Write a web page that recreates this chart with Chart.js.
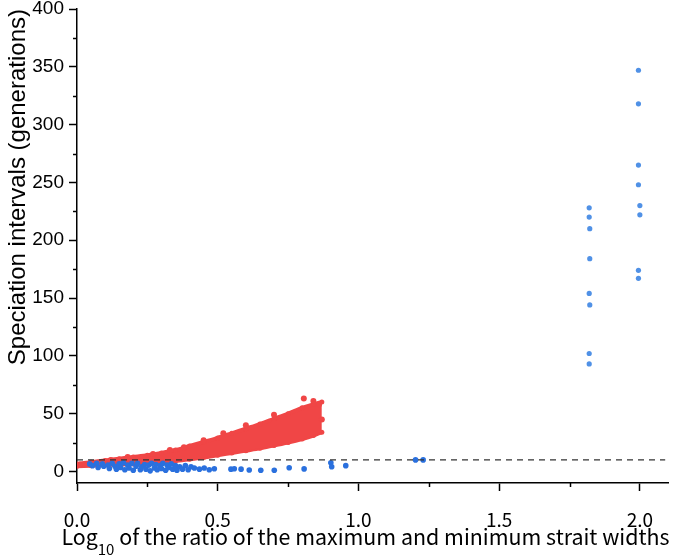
<!DOCTYPE html>
<html>
<head>
<meta charset="utf-8">
<script src="https://cdn.jsdelivr.net/npm/chart.js@4/dist/chart.umd.min.js"></script>
<style>
  html, body { margin: 0; padding: 0; background: #fff; }
  #wrap { width: 685px; height: 560px; position: relative; }
</style>
</head>
<body>
<div id="wrap"><canvas id="c" width="685" height="560"></canvas></div>
<script>
// ---- data ----
const xAxisTitleMain = 'Log';
const xAxisTitleSub = '10';
const xAxisTitleRest = ' of the ratio of the maximum and minimum strait widths';
const yAxisTitle = 'Speciation intervals (generations)';
const xTickValues = [0, 0.5, 1.0, 1.5, 2.0];
const yTickValues = [0, 50, 100, 150, 200, 250, 300, 350, 400];
const thresholdY = 10;
const thresholdX = [0, 2.09];

// red simulated cloud: band edges
const bandX     = [0.00, 0.05, 0.10, 0.15, 0.20, 0.25, 0.30, 0.35, 0.40, 0.45, 0.50, 0.55, 0.60, 0.65, 0.70, 0.75, 0.80, 0.84, 0.87];
const bandUpper = [6.5,  8,    9.5,  11,   12.5, 14,   16,   18.5, 22,   25.5, 29,   33,   37,   41,   45.5, 50,   55,   58,   60];
const bandLower = [4.5,  5,    5.5,  6,    6.5,  7,    8,    9,    10.5, 12,   14,   16,   18,   20,   22.5, 25,   28,   31,   34];
// red outliers
const redOutX = [0.01, 0.12, 0.18, 0.27, 0.33, 0.38, 0.45, 0.52, 0.60, 0.70, 0.806, 0.84, 0.86, 0.87];
const redOutY = [6,    10,   12.5, 15,   18.5, 21,   27,   33,   40,   49,   63,    61,   58,   45];

// blue empirical points (low)
const blueLowX = [0.045,0.055,0.07,0.075,0.09,0.095,0.11,0.115,0.125,0.135,0.14,0.15,0.155,0.165,0.17,0.18,0.185,0.195,0.2,0.21,0.215,0.225,0.23,0.24,0.245,0.255,0.26,0.265,0.275,0.28,0.285,0.295,0.3,0.305,0.315,0.32,0.325,0.335,0.34,0.35,0.355,0.365,0.375,0.385,0.395,0.405,0.417,0.435,0.452,0.47,0.488,0.547,0.559,0.583,0.612,0.653,0.701,0.754,0.807,0.902,0.905,0.955,1.203,1.23];
const blueLowY = [6.5,5,7,3.5,6.5,4.5,5.5,2.5,7,4.5,2,6.5,3.5,7.5,1.5,5.5,3,7,1,4.5,7,1.5,4,6,2,5.5,0.5,7,3,6,1.5,5,2.5,7,1,5.5,3.5,6.5,2,5,1,4,2,5,1.5,4,3,2,3,1.5,2.3,2,2.3,2,1.3,1,1,3.2,2.2,7.5,4,5,10,10];
// blue empirical points (high)
const blueHighX = [1.82,1.82,1.822,1.822,1.82,1.822,1.82,1.82, 1.995,1.995,1.995,1.995,2.0,2.0,1.995,1.995];
const blueHighY = [228,220,210,184,154,144,102,93, 347,318,265,248,230,222,174,167];

const xMin = 0, xMax = 2.1, xMinorStep = 0.25;
const yMin = -10, yMax = 400, yMinorStep = 25;

// ---- build ----
const zip = (xs, ys) => xs.map((x, i) => ({ x: x, y: ys[i] }));
const RED = 'rgb(240,70,70)';
const BLUE = 'rgb(42,112,222)';
const BLUE_L = 'rgb(80,145,230)';

const minorTicks = {
  id: 'minorTicks',
  afterDraw(chart) {
    const ctx = chart.ctx;
    const xs = chart.scales.x, ys = chart.scales.y;
    ctx.save();
    ctx.strokeStyle = '#000';
    ctx.lineWidth = 1.5;
    for (let v = yMinorStep; v < yMax; v += 2 * yMinorStep) {
      const p = Math.round(ys.getPixelForValue(v)) + 0.5;
      ctx.beginPath(); ctx.moveTo(ys.right, p); ctx.lineTo(ys.right - 4, p); ctx.stroke();
    }
    for (let v = xMinorStep; v < xMax; v += 2 * xMinorStep) {
      const p = Math.round(xs.getPixelForValue(v)) + 0.5;
      ctx.beginPath(); ctx.moveTo(p, xs.top); ctx.lineTo(p, xs.top + 4); ctx.stroke();
    }
    // x axis title with subscript
    const cx = (chart.chartArea.left + chart.chartArea.right) / 2 - 7;
    const base = 545;
    const fMain = '21.4px "Noto Sans CJK JP"';
    const fSub = '15px "Noto Sans CJK JP"';
    ctx.fillStyle = '#000';
    ctx.textBaseline = 'alphabetic';
    ctx.textAlign = 'left';
    ctx.font = fMain;
    const w1 = ctx.measureText(xAxisTitleMain).width;
    const w3 = ctx.measureText(xAxisTitleRest).width;
    ctx.font = fSub;
    const w2 = ctx.measureText(xAxisTitleSub).width;
    let x0 = cx - (w1 + w2 + w3) / 2;
    ctx.font = fMain; ctx.fillText(xAxisTitleMain, x0, base);
    ctx.font = fSub; ctx.fillText(xAxisTitleSub, x0 + w1, base + 10);
    ctx.font = fMain; ctx.fillText(xAxisTitleRest, x0 + w1 + w2, base);
    ctx.restore();
  }
};

new Chart(document.getElementById('c'), {
  type: 'scatter',
  data: {
    datasets: [
      {
        type: 'line', label: 'threshold',
        data: thresholdX.map(x => ({ x: x, y: thresholdY })),
        borderColor: '#333', borderWidth: 1.3, borderDash: [6, 5],
        pointRadius: 0, fill: false, order: 0
      },
      {
        label: 'empirical low', data: zip(blueLowX, blueLowY),
        backgroundColor: BLUE, borderWidth: 0, pointRadius: 2.8, order: 1
      },
      {
        label: 'empirical high', data: zip(blueHighX, blueHighY),
        backgroundColor: BLUE_L, borderWidth: 0, pointRadius: 2.6, order: 1
      },
      {
        label: 'sim outliers', data: zip(redOutX, redOutY),
        backgroundColor: RED, borderWidth: 0, pointRadius: 3, order: 2
      },
      {
        type: 'line', label: 'sim upper', data: zip(bandX, bandUpper),
        borderColor: RED, borderWidth: 4, backgroundColor: RED,
        pointRadius: 2.5, pointBackgroundColor: RED, pointBorderWidth: 0,
        tension: 0.3, fill: '+1', order: 3
      },
      {
        type: 'line', label: 'sim lower', data: zip(bandX, bandLower),
        borderColor: RED, borderWidth: 4, backgroundColor: RED,
        pointRadius: 2.5, pointBackgroundColor: RED, pointBorderWidth: 0,
        tension: 0.3, fill: false, order: 3
      }
    ]
  },
  options: {
    responsive: false,
    animation: false,
    events: [],
    layout: { padding: { left: 0, right: 17, top: 9, bottom: 0 } },
    plugins: { legend: { display: false }, tooltip: { enabled: false } },
    scales: {
      x: {
        type: 'linear', min: xMin, max: xMax,
        afterBuildTicks: s => { s.ticks = xTickValues.map(v => ({ value: v })); },
        afterFit: s => { s.height = 77; s.paddingLeft = 0; s.paddingRight = 0; },
        ticks: {
          padding: 17, color: '#000',
          font: { family: '"Noto Sans CJK JP"', size: 19 },
          callback: v => Number(v).toFixed(1),
          maxRotation: 0, autoSkip: false
        },
        grid: { drawOnChartArea: false, drawTicks: true, tickLength: 8, tickColor: '#000', tickWidth: 1.5 },
        border: { display: true, color: '#000', width: 1.5 }
      },
      y: {
        type: 'linear', min: yMin, max: yMax,
        afterBuildTicks: s => { s.ticks = yTickValues.map(v => ({ value: v })); },
        afterFit: s => { s.width = 77; s.paddingTop = 0; s.paddingBottom = 0; },
        ticks: {
          padding: 5, color: '#000', autoSkip: false,
          font: { family: '"Liberation Sans", Arial, sans-serif', size: 19 }
        },
        title: {
          display: true, text: yAxisTitle, align: 'end', color: '#000',
          font: { family: '"Liberation Sans", Arial, sans-serif', size: 24 },
          padding: { top: 4, bottom: 0 }
        },
        grid: { drawOnChartArea: false, drawTicks: true, tickLength: 8, tickColor: '#000', tickWidth: 1.5 },
        border: { display: true, color: '#000', width: 1.5 }
      }
    }
  },
  plugins: [minorTicks]
});
</script>
</body>
</html>
